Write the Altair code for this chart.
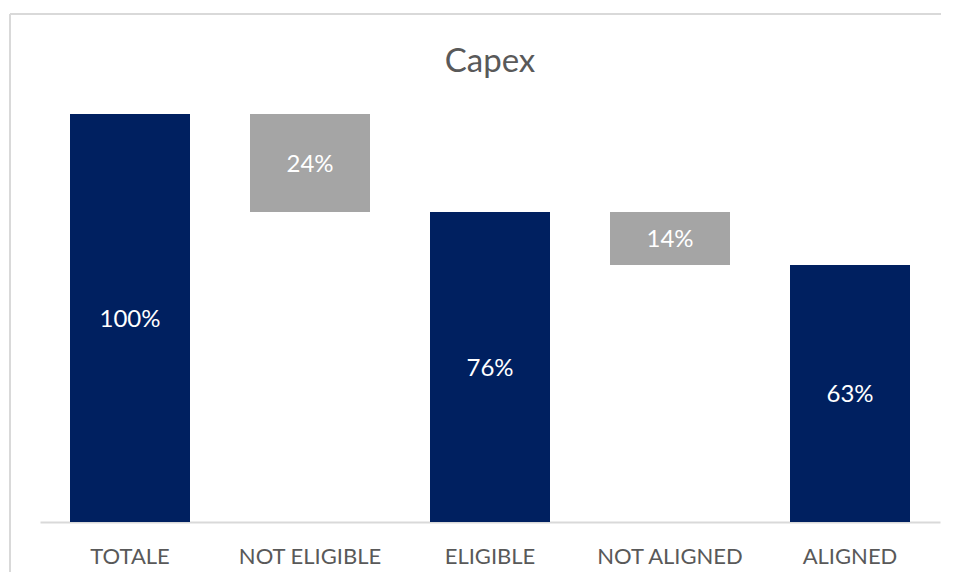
import altair as alt
import pandas as pd

categories = ["TOTALE", "NOT ELIGIBLE", "ELIGIBLE", "NOT ALIGNED", "ALIGNED"]
bar_start = [0, 76, 0, 63, 0]
bar_end = [100, 100, 76, 76, 63]
labels = ["100%", "24%", "76%", "14%", "63%"]
kinds = ["total", "delta", "total", "delta", "total"]
chart_title = "Capex"

df = pd.DataFrame({
    "cat": categories,
    "start": bar_start,
    "end": bar_end,
    "label": labels,
    "kind": kinds,
})
df["mid"] = (df["start"] + df["end"]) / 2

FONT = "Lato"

x_enc = alt.X(
    "cat:N",
    sort=categories,
    scale=alt.Scale(paddingInner=1 / 3, paddingOuter=1 / 6),
    axis=alt.Axis(
        title=None, labelAngle=0, ticks=False, tickSize=0, labelPadding=34,
        labelBaseline="middle", labelFont=FONT, labelFontSize=22,
        labelColor="#595959", domainColor="#d9d9d9", domainWidth=2,
        grid=False,
    ),
)

base = alt.Chart(df)

bars = base.mark_bar().encode(
    x=x_enc,
    y=alt.Y("start:Q", scale=alt.Scale(domain=[0, 100], nice=False, zero=True), axis=None),
    y2="end:Q",
    color=alt.Color("kind:N", scale=alt.Scale(domain=["total", "delta"], range=["#002060", "#A5A5A5"]), legend=None),
)

text = base.mark_text(font=FONT, fontSize=24, color="#ffffff", baseline="middle", dy=2).encode(
    x=alt.X("cat:N", sort=categories),
    y=alt.Y("mid:Q"),
    text="label:N",
)

frame_df = pd.DataFrame({"title": [chart_title]})
top_line = alt.Chart(frame_df).mark_rule(color="#d9d9d9", strokeWidth=2).encode(
    x=alt.value(-30), x2=alt.value(908), y=alt.value(-100)
)
left_line = alt.Chart(frame_df).mark_rule(color="#d9d9d9", strokeWidth=2).encode(
    x=alt.value(-30), y=alt.value(-100), y2=alt.value(460)
)
title_text = alt.Chart(frame_df).mark_text(
    font=FONT, fontSize=33, color="#595959", align="center", baseline="alphabetic"
).encode(x=alt.value(450), y=alt.value(-42), text="title:N")

chart = alt.layer(top_line, left_line, title_text, bars, text).properties(
    width=900,
    height=408,
    autosize=alt.AutoSizeParams(type="none"),
    padding={"left": 32, "top": 106, "right": 1, "bottom": 50},
).configure_view(stroke=None)

chart.save("out.html", embed_options={"renderer": "svg", "actions": False})
